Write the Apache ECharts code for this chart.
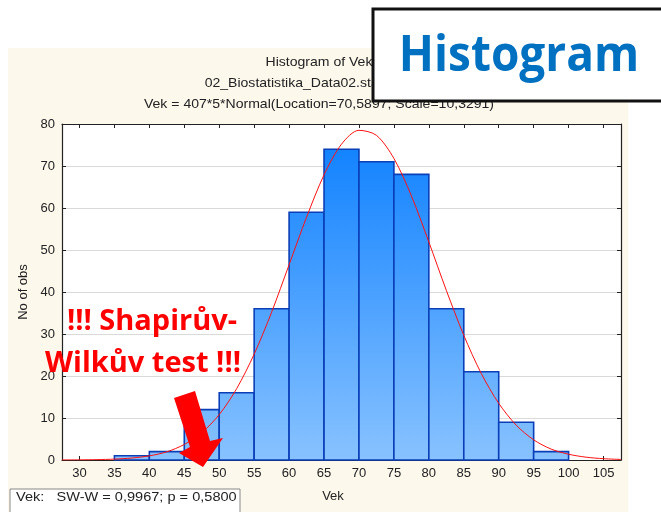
<!DOCTYPE html>
<html>
<head>
<meta charset="utf-8">
<script src="https://cdn.jsdelivr.net/npm/echarts@6/dist/echarts.min.js"></script>
<style>
html,body{margin:0;padding:0;background:#ffffff;}
#chart{width:661px;height:512px;}
</style>
</head>
<body>
<div id="chart"></div>
<script>
// Histogram bins (lower edges), width 5
var binStarts = [30, 35, 40, 45, 50, 55, 60, 65, 70, 75, 80, 85, 90, 95, 100];
var counts    = [0, 1, 2, 12, 16, 36, 59, 74, 71, 68, 36, 21, 9, 2, 0];
var binWidth = 5;
// Fitted curve
var curveX = [27.5, 30, 32.5, 35, 37.5, 40, 42.5, 45, 47.5, 50, 52.5, 55, 57.5, 60, 62.5, 65, 67.5, 70, 72.5, 75, 77.5, 80, 82.5, 85, 87.5, 90, 92.5, 95, 97.5, 100, 102.5, 105, 107.5];
var curveY = [0.01, 0.04, 0.09, 0.21, 0.47, 0.98, 1.95, 3.7, 6.5, 10.8, 17.0, 25.2, 35.2, 46.5, 57.8, 67.9, 75.2, 78.5, 77.3, 71.8, 62.9, 51.9, 40.4, 29.7, 20.6, 13.5, 8.3, 4.8, 2.6, 1.37, 0.67, 0.31, 0.13];
var xTickLabels = [30, 35, 40, 45, 50, 55, 60, 65, 70, 75, 80, 85, 90, 95, 100, 105];

var titleLines = ['Histogram of Vek', '02_Biostatistika_Data02.sta 4v*407c', 'Vek = 407*5*Normal(Location=70,5897; Scale=10,3291)'];
var statText = 'Vek:   SW-W = 0,9967; p = 0,5800';

var barData = binStarts.map(function (s, i) { return [s, s + binWidth, counts[i]]; });
var curveData = curveX.map(function (x, i) { return [x, curveY[i]]; });

var chart = echarts.init(document.getElementById('chart'), null, {renderer: 'canvas'});
var font = '"Liberation Sans", Arial, sans-serif';

var axisCommon = {
  type: 'value', min: 27.5, max: 107.5,
  axisLine: {show: true, onZero: false, lineStyle: {color: '#222', width: 1.2}},
  splitLine: {show: false}
};

function titleText(txt, y) {
  return {type: 'text', z: 5, x: 319, y: y, scaleX: 1.08,
    style: {text: txt, fill: '#222', font: '13px ' + font, textAlign: 'center', textVerticalAlign: 'middle'}};
}

var option = {
  animation: false,
  backgroundColor: 'transparent',
  graphic: [
    {type: 'rect', z: -10, shape: {x: 8, y: 48, width: 620, height: 470}, style: {fill: '#FDF8EC'}},
    titleText(titleLines[0], 62),
    titleText(titleLines[1], 83),
    titleText(titleLines[2], 104),
    {type: 'rect', z: 20, shape: {x: 373, y: 9, width: 300, height: 92}, style: {fill: '#ffffff', stroke: '#111', lineWidth: 3}},
    {type: 'text', z: 21, x: 519, y: 57, scaleY: 1.1,
      style: {text: 'Histogram', fill: '#0070C0', font: 'bold 46px "Open Sans", sans-serif', textAlign: 'center', textVerticalAlign: 'middle'}},
    {type: 'text', z: 21, x: 152, y: 322, style: {text: '!!! Shapirův-', fill: '#FF0000', font: 'bold 29px "Open Sans", sans-serif', textAlign: 'center', textVerticalAlign: 'middle'}},
    {type: 'text', z: 21, x: 143, y: 364, style: {text: 'Wilkův test !!!', fill: '#FF0000', font: 'bold 29px "Open Sans", sans-serif', textAlign: 'center', textVerticalAlign: 'middle'}},
    {type: 'polygon', z: 22, shape: {points: [[174, 398], [195, 391], [210, 441], [223, 438], [203, 467], [179, 453], [190, 447]]}, style: {fill: '#FF0000'}},
    {type: 'rect', z: 20, shape: {x: 10, y: 489, width: 230, height: 30}, style: {fill: '#ffffff', stroke: '#888', lineWidth: 1}},
    {type: 'text', z: 21, x: 16, y: 497, scaleX: 1.12,
      style: {text: statText, fill: '#222', font: '13px ' + font, textAlign: 'left', textVerticalAlign: 'middle'}},
    {type: 'text', z: 21, x: 333, y: 496, style: {text: 'Vek', fill: '#222', font: '13px ' + font, textAlign: 'center', textVerticalAlign: 'middle'}}
  ],
  grid: {left: 62, right: 40, top: 124, bottom: 52, show: true, backgroundColor: '#ffffff', borderWidth: 0},
  xAxis: [
    Object.assign({}, axisCommon, {
      position: 'bottom',
      axisTick: {show: true, inside: true, length: 4, customValues: xTickLabels, lineStyle: {color: '#222'}},
      axisLabel: {show: true, customValues: xTickLabels, color: '#222', fontSize: 13, fontFamily: font, margin: 7}
    }),
    Object.assign({}, axisCommon, {
      position: 'top',
      axisTick: {show: true, inside: true, length: 4, customValues: xTickLabels, lineStyle: {color: '#222'}},
      axisLabel: {show: false}
    })
  ],
  yAxis: [
    {
      type: 'value', min: 0, max: 80, interval: 10, position: 'left',
      name: 'No of obs', nameLocation: 'middle', nameGap: 31, nameRotate: 90,
      nameTextStyle: {color: '#222', fontSize: 13, fontFamily: font},
      axisLine: {show: true, lineStyle: {color: '#222', width: 1.2}},
      axisTick: {show: true, inside: true, length: 4, lineStyle: {color: '#222'}},
      axisLabel: {color: '#222', fontSize: 13, fontFamily: font, margin: 7},
      splitLine: {show: true, lineStyle: {color: '#DADADA', width: 1}}
    },
    {
      type: 'value', min: 0, max: 80, interval: 10, position: 'right',
      axisLine: {show: true, lineStyle: {color: '#222', width: 1.2}},
      axisTick: {show: true, inside: true, length: 4, lineStyle: {color: '#222'}},
      axisLabel: {show: false},
      splitLine: {show: false}
    }
  ],
  series: [
    {
      type: 'custom',
      xAxisIndex: 0, yAxisIndex: 0,
      data: barData,
      encode: {x: [0, 1], y: 2},
      renderItem: function (params, api) {
        var p0 = api.coord([api.value(0), api.value(2)]);
        var p1 = api.coord([api.value(1), 0]);
        var h = p1[1] - p0[1];
        return {
          type: 'rect',
          shape: {x: p0[0], y: p0[1], width: p1[0] - p0[0], height: h},
          style: {
            fill: {type: 'linear', x: 0, y: 124, x2: 0, y2: 460, global: true,
              colorStops: [{offset: 0, color: '#0A7EFF'}, {offset: 1, color: '#88C2FF'}]},
            stroke: '#0A3FB8', lineWidth: h > 0 ? 1.6 : 0
          }
        };
      },
      z: 2
    },
    {
      type: 'line',
      xAxisIndex: 0, yAxisIndex: 0,
      data: curveData,
      smooth: 0.3,
      showSymbol: false,
      lineStyle: {color: '#FF1010', width: 1},
      z: 3
    }
  ]
};
chart.setOption(option);
</script>
</body>
</html>
